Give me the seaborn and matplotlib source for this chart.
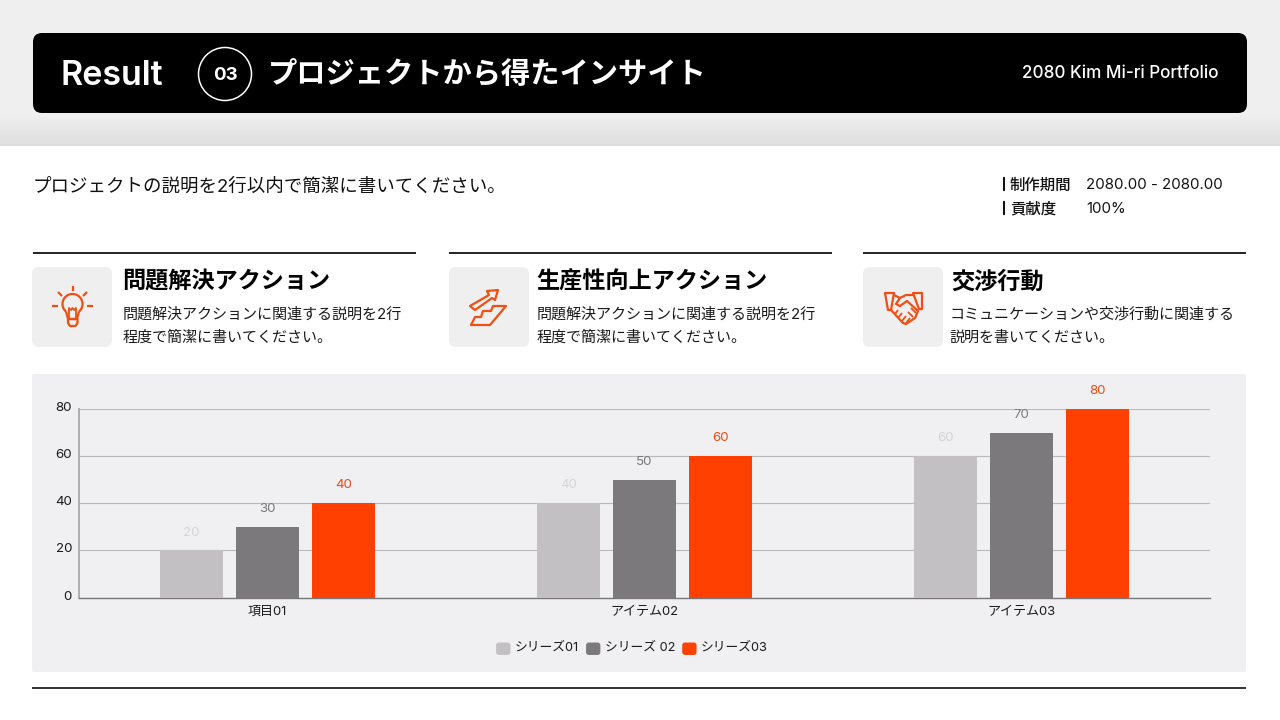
import matplotlib
matplotlib.use("Agg")
import matplotlib.pyplot as plt
import numpy as np
import pandas as pd
import seaborn as sns
from matplotlib.legend_handler import HandlerPatch
from matplotlib.patches import Arc, Circle, FancyBboxPatch, Polygon, Rectangle
from matplotlib.transforms import ScaledTranslation

categories = ["項目01", "アイテム02", "アイテム03"]
series_names = ["シリーズ01", "シリーズ 02", "シリーズ03"]
series_01 = [20, 40, 60]
series_02 = [30, 50, 70]
series_03 = [40, 60, 80]
y_ticks = [0, 20, 40, 60, 80]

bar_colors = ["#c2c0c2", "#7b797b", "#ff4000"]
label_colors = ["#d6d4d6", "#7b797b", "#ee4a10"]
ORANGE = "#f04e12"
PANEL = "#f0eff1"

sns.set_theme(style="white")
plt.rcParams["font.family"] = ["Inter", "Noto Sans CJK JP", "DejaVu Sans"]
plt.rcParams["axes.unicode_minus"] = False

fig = plt.figure(figsize=(12.8, 7.2), dpi=100, facecolor="white")

# page layer, in pixel coordinates
bg = fig.add_axes([0, 0, 1, 1], zorder=0)
bg.set_xlim(0, 1280)
bg.set_ylim(720, 0)
bg.axis("off")


def box(x0, y0, x1, y1, color, r=8, **kw):
    bg.add_patch(FancyBboxPatch((x0 + r, y0 + r), x1 - x0 - 2 * r, y1 - y0 - 2 * r,
                                boxstyle=f"round,pad={r},rounding_size={r}",
                                fc=color, ec="none", **kw))


def outline(points, closed=True, lw=1.6):
    bg.add_patch(Polygon(points, closed=closed, fc="none", ec=ORANGE, lw=lw, joinstyle="round"))


def text(x, y, s, size, color="black", weight="normal", ha="left"):
    bg.text(x, y, s, fontsize=size, color=color, fontweight=weight, ha=ha, va="center")


# header band with its soft shadow
shade = np.interp(np.arange(146), [0, 114, 146], [0.937, 0.937, 0.87]).reshape(-1, 1)
bg.imshow(shade, extent=[0, 1280, 146, 0], cmap="gray", vmin=0, vmax=1, aspect="auto", zorder=0)
bg.set_xlim(0, 1280)
bg.set_ylim(720, 0)

box(33, 33, 1247, 113, "black", r=9, zorder=1)
text(60.5, 76, "Result", 24.5, "white", "semibold")
bg.add_patch(Circle((225, 74), 26.5, fc="none", ec="white", lw=1.1, zorder=2))
text(225, 75.5, "03", 13.5, "white", "bold", ha="center")
text(267.5, 75, "プロジェクトから得たインサイト", 21.1, "white", "bold")
text(1219, 74, "2080 Kim Mi-ri Portfolio", 12.3, "white", "medium", ha="right")

text(32.5, 187.5, "プロジェクトの説明を2行以内で簡潔に書いてください。", 13.3, "#111111")

for y, name, value in [(184, "制作期間", "2080.00 - 2080.00"), (208, "貢献度", "100%")]:
    bg.add_patch(Rectangle((1002.5, y - 7), 2, 14, fc="#111111", ec="none"))
    text(1010, y + 1, name, 11.1, "#111111", "medium")
    text(1086, y + 1, value, 10.8, "#111111")

# three action cards
cards = [
    (33, 416, 32, 122, 122.5, "問題解決アクション",
     "問題解決アクションに関連する説明を2行", "程度で簡潔に書いてください。"),
    (449, 832, 449, 536.5, 536.5, "生産性向上アクション",
     "問題解決アクションに関連する説明を2行", "程度で簡潔に書いてください。"),
    (863, 1246, 863, 951.5, 949.5, "交渉行動",
     "コミュニケーションや交渉行動に関連する", "説明を書いてください。"),
]
for x0, x1, bx, tx, dx, title, line1, line2 in cards:
    bg.plot([x0, x1], [253, 253], color="#111111", lw=1.3, solid_capstyle="butt")
    box(bx, 267, bx + 80, 347, "#efeff0", r=7)
    text(tx, 282.5, title, 16.7, "black", "bold")
    text(dx, 314.5, line1, 10.85, "#1a1a1a")
    text(dx, 337.5, line2, 10.85, "#1a1a1a")

# bulb icon
bg.add_patch(Arc((72.5, 304), 20, 20, theta1=130, theta2=50, ec=ORANGE, lw=1.6))
outline([(66, 311.5), (68, 319), (77, 319), (79, 311.5)], closed=False)
outline([(69, 319), (69, 308), (71, 310), (72.5, 308), (74, 310), (76, 308), (76, 319)], closed=False, lw=1.3)
outline([(68, 319), (77.5, 319), (77.5, 323), (75.5, 326), (70, 326), (68, 323)])
for ray in [[(72.5, 286), (72.5, 291)], [(58, 292), (62, 296)], [(87, 292), (83, 296)],
            [(52, 306), (58, 306)], [(87, 306), (93, 306)]]:
    outline(ray, closed=False)

# stairs icon
outline([(470, 306), (489, 295), (487, 291), (498, 290), (495, 300), (492, 298), (475, 310)])
outline([(471, 325), (490, 325), (506, 306), (493, 306), (491, 311), (483, 311), (481, 317), (475, 317)])

# handshake icon
outline([(885, 293), (894, 293), (891, 310), (888, 310)])
outline([(913, 293), (922, 293), (922, 309), (919, 309)])
outline([(894, 295), (900, 298), (906, 295), (913, 295)], closed=False)
outline([(900, 298), (896, 304), (900, 306), (907, 301), (918, 311), (915, 318), (906, 324),
         (903, 323), (891, 310)], closed=False)
for seg in [[(895, 314), (898, 310)], [(898, 318), (902, 313)], [(902, 321), (906, 316)],
            [(906, 323), (910, 318)], [(908, 312), (913, 317)], [(911, 308), (916, 313)]]:
    outline(seg, closed=False, lw=1.3)

# chart panel and bottom rule
box(32, 374, 1246, 672, PANEL, r=2)
bg.plot([32, 1246], [687.5, 687.5], color="#111111", lw=1.2, solid_capstyle="butt")

# chart
df = pd.DataFrame({
    "item": categories * 3,
    "series": np.repeat(series_names, len(categories)),
    "value": series_01 + series_02 + series_03,
})

ax = fig.add_axes([79 / 1280, (720 - 597.5) / 720, 1131 / 1280, 188.5 / 720], zorder=1)
ax.patch.set_alpha(0)
sns.barplot(data=df, x="item", y="value", hue="series", hue_order=series_names,
            palette=bar_colors, saturation=1, width=0.605, gap=0.16, legend=False,
            linewidth=0, ax=ax, zorder=3)
ax.set_xlim(-0.5, 2.5)
ax.set_ylim(0, 80)
ax.set_yticks(y_ticks)
ax.set_xlabel("")
ax.set_ylabel("")
ax.grid(axis="y", color="#b9b8bb", lw=0.8)
ax.set_axisbelow(True)
sns.despine(ax=ax, top=True, right=True)
ax.spines["left"].set_color("#a9a8ab")
ax.spines["left"].set_linewidth(1.3)
ax.spines["bottom"].set_color("#77767a")
ax.spines["bottom"].set_linewidth(1.0)
ax.tick_params(axis="y", length=0, pad=5, labelsize=9.6, labelcolor="#1a1a1a")
ax.tick_params(axis="x", length=0, pad=6, labelsize=9.4, labelcolor="#1a1a1a")

shift_up = ScaledTranslation(0, 2.5 / 100, fig.dpi_scale_trans)
for lab in ax.get_yticklabels():
    lab.set_transform(lab.get_transform() + shift_up)

for container, color in zip(ax.containers, label_colors):
    ax.bar_label(container, padding=8.5, fontsize=9.6, color=color, clip_on=False)


class RoundedHandle(HandlerPatch):
    def create_artists(self, legend, orig_handle, xdescent, ydescent, width, height, fontsize, trans):
        r = 2.0
        p = FancyBboxPatch((r, -3 + r), width - 2 * r, height - 2 * r,
                           boxstyle=f"round,pad={r},rounding_size={r}",
                           fc=orig_handle.get_facecolor(), ec="none", transform=trans)
        return [p]


handles = [Rectangle((0, 0), 1, 1, fc=c) for c in bar_colors]
leg = ax.legend(handles, series_names, handler_map={Rectangle: RoundedHandle()},
                ncols=3, frameon=False, fontsize=9.2, handlelength=1.12, handleheight=1.12,
                handletextpad=0.35, columnspacing=0.55, borderpad=0, borderaxespad=0,
                loc="center", bbox_to_anchor=(632 / 1280, (720 - 647) / 720),
                bbox_transform=fig.transFigure)
for t in leg.get_texts():
    t.set_color("#1a1a1a")

fig.savefig("out.png", dpi=100)
